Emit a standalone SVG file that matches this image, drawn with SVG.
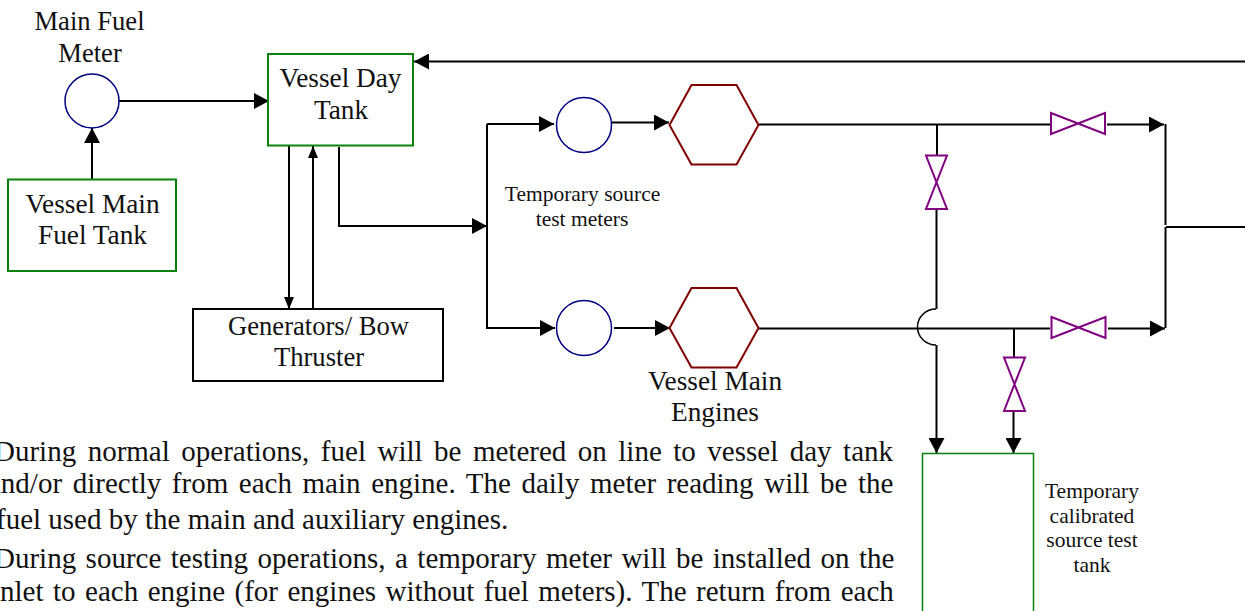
<svg xmlns="http://www.w3.org/2000/svg" width="1245" height="611" viewBox="0 0 1245 611">
<defs>
<marker id="a" markerUnits="userSpaceOnUse" markerWidth="16" markerHeight="16" refX="15" refY="8" orient="auto"><path d="M0 0L15 8L0 16Z" fill="#000"/></marker>
<marker id="b" markerUnits="userSpaceOnUse" markerWidth="12" markerHeight="12" refX="12" refY="5" orient="auto"><path d="M0 0L12 5L0 10Z" fill="#000"/></marker>
</defs>
<style>
text{font-family:"Liberation Serif","Times New Roman",serif;fill:#111}
.l{font-size:26.600px;text-anchor:middle}
.w{font-size:27.300px;text-anchor:middle}
.s{font-size:21.500px;text-anchor:middle}
.p{font-size:29px}
.c{fill:none;stroke:#000;stroke-width:2}
.g{fill:#fff;stroke:#0b820b;stroke-width:2}
.m{fill:#fff;stroke:#000080;stroke-width:1.500}
.h{fill:#fff;stroke:#800000;stroke-width:2}
.v{fill:#fff;stroke:#800080;stroke-width:2}
</style>
<g id="connectors" class="c">
<path d="M119 101H269" marker-end="url(#a)"/>
<path d="M92 181V128" marker-end="url(#a)"/>
<path d="M1245 61.500H414" marker-end="url(#a)"/>
<path d="M289 145V309" marker-end="url(#b)"/>
<path d="M313 308V146" marker-end="url(#b)"/>
<path d="M339 147V226H487" marker-end="url(#a)"/>
<path d="M487 124H554" marker-end="url(#a)"/>
<path d="M487 124V328H555" marker-end="url(#a)"/>
<path d="M612 122.500H669" marker-end="url(#a)"/>
<path d="M614 328H670" marker-end="url(#a)"/>
<path d="M759 124.500H1050"/>
<path d="M1107 124.500H1164" marker-end="url(#a)"/>
<path d="M759 328.500H1050"/>
<path d="M1108 328.500H1165" marker-end="url(#a)"/>
<path d="M1165.500 124V225M1165.500 227V328M1166 227H1245"/>
<path d="M937 124.500V156M936.500 209V309"/>
<path d="M936 309A18 17.500 0 0 0 936 345" style="stroke-width:1.500"/>
<path d="M936.500 345V453" marker-end="url(#a)"/>
<path d="M1014 329V358M1013.500 411V453" marker-end="url(#a)"/>
</g>
<g id="main-fuel-meter"><circle class="m" cx="92" cy="101" r="27"/><text class="l" x="89.500" y="30">Main Fuel</text><text class="l" x="90" y="62">Meter</text></g>
<g id="vessel-main-fuel-tank"><rect class="g" x="8" y="179.500" width="168" height="91.500"/><text class="w" x="92.500" y="213">Vessel Main</text><text class="w" x="92.500" y="244">Fuel Tank</text></g>
<g id="vessel-day-tank"><rect class="g" x="268" y="54" width="145" height="91.500"/><text class="w" x="340.500" y="87">Vessel Day</text><text class="w" x="341" y="119">Tank</text></g>
<g id="generators"><rect x="193" y="309" width="250" height="72" fill="#fff" stroke="#000" stroke-width="2"/><text class="l" x="318.500" y="335">Generators/ Bow</text><text class="l" x="319" y="366">Thruster</text></g>
<g id="test-meter-1"><circle class="m" cx="584" cy="125" r="27.500"/></g>
<g id="test-meter-2"><circle class="m" cx="584" cy="328" r="27.500"/></g>
<g id="test-meters-label"><text class="s" x="582.500" y="201">Temporary source</text><text class="s" x="582" y="226">test meters</text></g>
<g id="engine-1"><path class="h" d="M669.500 125L691.500 85H736.500L758.500 125L736.500 164.500H691.500Z"/></g>
<g id="engine-2"><path class="h" d="M669.500 328L691.500 288H736.500L758.500 328L736.500 367.500H691.500Z"/></g>
<g id="engines-label"><text class="w" x="715" y="390">Vessel Main</text><text class="w" x="715" y="421">Engines</text></g>
<g id="valve-top"><path class="v" d="M1051 113L1105 134V113L1051 134Z"/></g>
<g id="valve-bottom"><path class="v" d="M1051.500 317L1105.500 338V317L1051.500 338Z"/></g>
<g id="valve-cross"><path class="v" d="M926 155.500H947L926 209H947Z"/></g>
<g id="valve-tank"><path class="v" d="M1004 357.500H1025L1004 411H1025Z"/></g>
<g id="test-tank"><rect class="g" x="922.500" y="453.500" width="111" height="170" style="stroke-width:1.500"/></g>
<g id="test-tank-label"><text class="s" x="1092" y="498">Temporary</text><text class="s" x="1092" y="523">calibrated</text><text class="s" x="1092" y="547">source test</text><text class="s" x="1092" y="572">tank</text></g>
<g id="paragraph">
<text class="p" x="-6" y="460.500" word-spacing="4.250">During normal operations, fuel will be metered on line to vessel day tank</text>
<text class="p" x="-12" y="493" word-spacing="3.350">and/or directly from each main engine. The daily meter reading will be the</text>
<text class="p" x="-4" y="528.500">fuel used by the main and auxiliary engines.</text>
<text class="p" x="-6" y="567.500" word-spacing="2.200">During source testing operations, a temporary meter will be installed on the</text>
<text class="p" x="-8" y="600.500" word-spacing="2.250">inlet to each engine (for engines without fuel meters). The return from each</text>
</g>
</svg>
